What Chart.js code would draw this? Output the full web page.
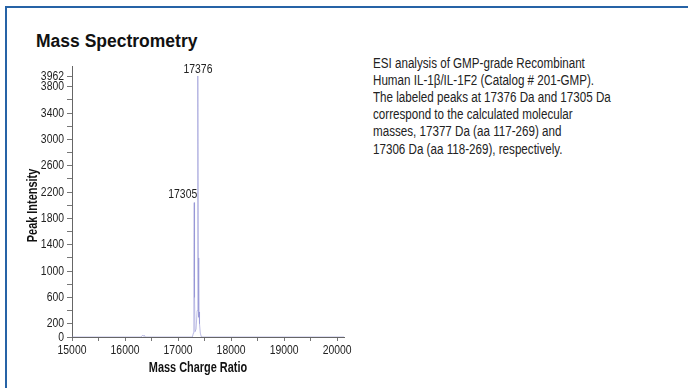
<!DOCTYPE html>
<html>
<head>
<meta charset="utf-8">
<script src="https://cdn.jsdelivr.net/npm/chart.js@4/dist/chart.umd.min.js"></script>
<style>
  html, body { margin: 0; padding: 0; background: #fff; }
  #page { position: relative; width: 688px; height: 388px; overflow: hidden; background: #fff; }
  #frame { position: absolute; left: 5px; top: 6px; right: -10px; bottom: -10px;
           border-top: 2px solid #2663a6; border-left: 2px solid #2663a6; }
  #title { position: absolute; left: 36px; top: 31px; font: bold 17.5px "Liberation Sans", Arial, sans-serif; color: #111; white-space: nowrap; }
  #caption { position: absolute; left: 373px; top: 54.5px; font: 14px "Liberation Sans", Arial, sans-serif;
             line-height: 17.2px; color: #222; white-space: nowrap; transform: scaleX(0.83); transform-origin: left top; }
  #chart { position: absolute; left: 0; top: 0; }
</style>
</head>
<body>
<div id="page">
  <div id="frame"></div>
  <div id="title">Mass Spectrometry</div>
  <div id="caption">ESI analysis of GMP-grade Recombinant<br>Human IL-1β/IL-1F2 (Catalog # 201-GMP).<br>The labeled peaks at 17376 Da and 17305 Da<br>correspond to the calculated molecular<br>masses, 17377 Da (aa 117-269) and<br>17306 Da (aa 118-269), respectively.</div>
  <canvas id="chart" width="688" height="388"></canvas>
</div>
<script>
// Spectrum trace: mass/charge (Da) and peak intensity
const massValues = [15000, 16300, 16330, 16345, 16360, 16380, 17270, 17290, 17298, 17305, 17311, 17320, 17340, 17360, 17370, 17376, 17382, 17388, 17393, 17398, 17405, 17420, 17440, 20130];
const intensityValues = [0, 0, 25, 10, 28, 0, 0, 60, 900, 2040, 600, 80, 120, 400, 1500, 3962, 1200, 740, 300, 380, 200, 60, 0, 0];

// Labeled peaks
const peakMasses = [17376, 17305];
const peakIntensities = [3962, 2040];

// Axis ticks
const xTickValues = [15000, 15500, 16000, 16500, 17000, 17500, 18000, 18500, 19000, 19500, 20000];
const xTickLabels = [15000, 16000, 17000, 18000, 19000, 20000];
const yTickValues = [0, 200, 400, 600, 800, 1000, 1200, 1400, 1600, 1800, 2000, 2200, 2400, 2600, 2800, 3000, 3200, 3400, 3600, 3800, 3962];
const yTickLabels = [0, 200, 600, 1000, 1400, 1800, 2200, 2600, 3000, 3400, 3800, 3962];

const FAMILY = '"Liberation Sans", Arial, sans-serif';
const LABEL_FONT = '13px ' + FAMILY;
const TITLE_FONT = 'bold 14px ' + FAMILY;
const NARROW = 0.8;   // condensed look for axis lettering

function drawNarrowText(ctx, text, px, py, opts) {
  ctx.save();
  ctx.translate(px, py);
  if (opts.rotate) ctx.rotate(opts.rotate);
  ctx.scale(opts.sx || NARROW, 1);
  ctx.font = opts.font || LABEL_FONT;
  ctx.fillStyle = opts.color || '#222';
  ctx.textAlign = opts.align || 'center';
  ctx.textBaseline = opts.baseline || 'alphabetic';
  ctx.fillText(text, 0, 0);
  ctx.restore();
}

// Tick labels, axis titles and peak annotations in a condensed face
const lettering = {
  id: 'lettering',
  afterDraw(chart) {
    const { ctx, chartArea: a, scales: { x, y } } = chart;
    yTickLabels.forEach(v => {
      drawNarrowText(ctx, String(v), a.left - 8, y.getPixelForValue(v), { align: 'right', baseline: 'middle' });
    });
    xTickLabels.forEach(v => {
      drawNarrowText(ctx, String(v), x.getPixelForValue(v), a.bottom + 16.5, { align: 'center' });
    });
    drawNarrowText(ctx, 'Peak Intensity', a.left - 35, (a.top + a.bottom) / 2 + 4,
      { font: TITLE_FONT, color: '#111', sx: 0.78, rotate: -Math.PI / 2 });
    drawNarrowText(ctx, 'Mass Charge Ratio', (a.left + a.right) / 2 - 10, a.bottom + 35,
      { font: TITLE_FONT, color: '#111', sx: 0.78 });
    peakMasses.forEach((m, i) => {
      const px = x.getPixelForValue(m);
      const py = y.getPixelForValue(peakIntensities[i]);
      if (i === 0) {
        drawNarrowText(ctx, String(m), px, py - 3, { align: 'center' });
      } else {
        drawNarrowText(ctx, String(m), px + 3, py - 5, { align: 'right' });
      }
    });
  }
};

new Chart(document.getElementById('chart'), {
  type: 'line',
  data: {
    datasets: [{
      data: massValues.map((m, i) => ({ x: m, y: intensityValues[i] })),
      borderColor: 'rgba(145,145,212,0.6)',
      borderWidth: 1,
      pointRadius: 0,
      tension: 0,
      fill: false
    }]
  },
  options: {
    responsive: false,
    animation: false,
    devicePixelRatio: 1,
    layout: { padding: { left: 24, top: 66, right: 344, bottom: 9 } },
    plugins: { legend: { display: false }, tooltip: { enabled: false } },
    scales: {
      x: {
        type: 'linear',
        min: 15000,
        max: 20130,
        z: 1,
        afterBuildTicks(s) { s.ticks = xTickValues.map(v => ({ value: v })); },
        afterFit(s) { s.height = 42; },
        ticks: { display: false },
        grid: { display: true, drawOnChartArea: false, drawTicks: true, tickLength: 4, color: '#777' },
        border: { display: true, color: '#666', width: 1 }
      },
      y: {
        type: 'linear',
        min: 0,
        max: 4114,
        z: 1,
        afterBuildTicks(s) { s.ticks = yTickValues.map(v => ({ value: v })); },
        afterFit(s) { s.width = 48; },
        ticks: { display: false },
        grid: { display: true, drawOnChartArea: false, drawTicks: true, tickLength: 5, color: '#777' },
        border: { display: true, color: '#666', width: 1 }
      }
    }
  },
  plugins: [lettering]
});
</script>
</body>
</html>
